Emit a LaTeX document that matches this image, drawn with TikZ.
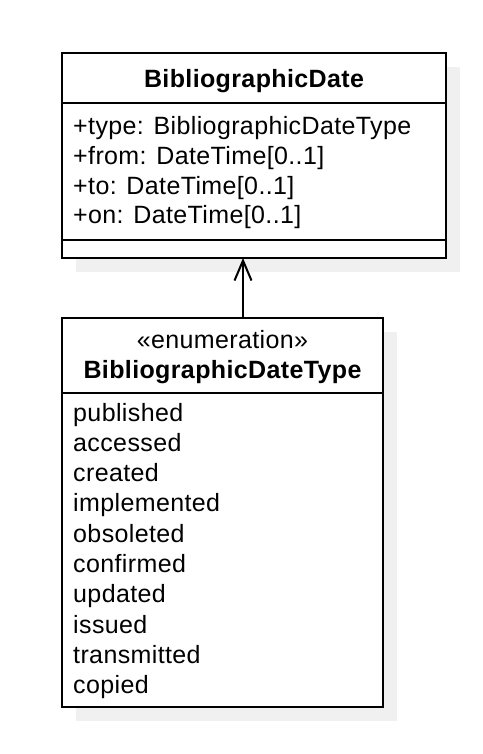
\documentclass[tikz,border=0pt]{standalone}
\usepackage{fontspec}
\setmainfont[LetterSpace=1.5]{Liberation Sans}
\usetikzlibrary{arrows.meta}
\begin{document}
\begin{tikzpicture}[x=1pt,y=-1pt,
  umlbox/.style={draw=black,line width=2pt,fill=white,rectangle,inner sep=0pt,outer sep=0pt},
  shadowbox/.style={fill=black!6,draw=none,rectangle,inner sep=0pt,outer sep=0pt},
  txt/.style={inner sep=0pt,anchor=base west,font=\fontsize{25}{30}\selectfont},
  ttl/.style={inner sep=0pt,anchor=base,font=\fontsize{25}{30}\selectfont\bfseries},
  sep/.style={line width=2pt},
  inh/.style={line width=2pt,-{Straight Barb[length=20pt,width=17pt,line width=2pt]}}]
\useasboundingbox (0,0) rectangle (482,754);
% shadows
\node[shadowbox,minimum width=384pt,minimum height=205pt] (As) at (268,169.5) {};
\node[shadowbox,minimum width=321pt,minimum height=389pt] (Es) at (236.5,526.5) {};
% boxes
\node[umlbox,minimum width=384pt,minimum height=205pt] (A) at (254,155.5) {};
\node[umlbox,minimum width=321pt,minimum height=389pt] (E) at (222.5,512.5) {};
% separators
\coordinate (a1) at (0,103);
\coordinate (a2) at (0,240);
\coordinate (e1) at (0,393);
\draw[sep] (A.west |- a1) -- (A.east |- a1);
\draw[sep] (A.west |- a2) -- (A.east |- a2);
\draw[sep] (E.west |- e1) -- (E.east |- e1);
% titles
\node[ttl] (At) at (254,88) {BibliographicDate};
\node[ttl,font=\fontsize{25}{30}\selectfont] (Es1) at (222.5,348) {«enumeration»};
\node[ttl] (Et) at (222.5,378) {BibliographicDateType};
% attributes
\node[txt] (a-1) at (73,135) {+type: BibliographicDateType};
\node[txt] (a-2) at (73,164.5) {+from: DateTime[0..1]};
\node[txt] (a-3) at (73,194) {+to: DateTime[0..1]};
\node[txt] (a-4) at (73,223.5) {+on: DateTime[0..1]};
% literals
\foreach \t [count=\i from 0] in {published,accessed,created,implemented,obsoleted,confirmed,updated,issued,transmitted,copied}
  \node[txt] (l-\i) at (73,421+30.3*\i) {\t};
% inheritance arrow
\coordinate (ax) at (243,0);
\draw[inh] (E.north -| ax) -- (A.south -| ax);
\end{tikzpicture}
\end{document}
